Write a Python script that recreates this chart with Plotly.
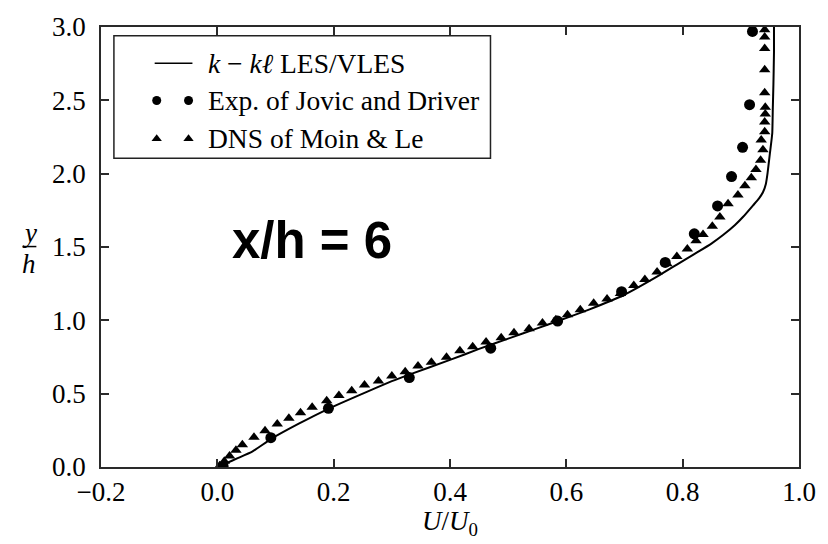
import plotly.graph_objects as go

# Mean streamwise velocity profile at x/h = 6 behind a backward-facing step
les_u = [0.0, 0.015, 0.035, 0.06, 0.092, 0.14, 0.19, 0.25, 0.30, 0.33, 0.40, 0.45,
         0.50, 0.55, 0.585, 0.64, 0.698, 0.761, 0.79, 0.824, 0.85, 0.87, 0.89,
         0.904, 0.921, 0.931, 0.938, 0.943, 0.946, 0.95, 0.954, 0.955, 0.956, 0.957,
         0.957]
les_y = [0.0, 0.025, 0.06, 0.105, 0.19, 0.295, 0.395, 0.50, 0.585, 0.63, 0.73, 0.805,
         0.875, 0.945, 0.995, 1.075, 1.171, 1.31, 1.38, 1.461, 1.525, 1.583, 1.65,
         1.706, 1.784, 1.83, 1.873, 1.93, 2.006, 2.14, 2.274, 2.452, 2.608, 2.83,
         3.0]

exp_u = [0.01, 0.092, 0.191, 0.33, 0.47, 0.585, 0.695, 0.77, 0.82, 0.86, 0.884,
         0.903, 0.915, 0.92]
exp_y = [0.005, 0.2, 0.4, 0.61, 0.81, 0.995, 1.195, 1.395, 1.59, 1.78, 1.98,
         2.18, 2.47, 2.97]

dns_u = [0.004, 0.012, 0.021, 0.032, 0.043, 0.063, 0.082, 0.103, 0.123, 0.143, 0.163,
         0.188, 0.209, 0.231, 0.253, 0.277, 0.30, 0.323, 0.345, 0.368, 0.394, 0.417,
         0.439, 0.462, 0.488, 0.51, 0.536, 0.559, 0.582, 0.602, 0.624, 0.647, 0.670,
         0.693, 0.716, 0.735, 0.756, 0.773, 0.790, 0.808, 0.823, 0.835, 0.851, 0.864,
         0.878, 0.895, 0.907, 0.918, 0.926, 0.934, 0.938, 0.935, 0.941, 0.941, 0.942,
         0.942, 0.941, 0.941, 0.941, 0.941, 0.941]
dns_y = [0.008, 0.04, 0.075, 0.114, 0.152, 0.203, 0.247, 0.294, 0.333, 0.37, 0.408,
         0.452, 0.487, 0.52, 0.559, 0.586, 0.62, 0.65, 0.688, 0.715, 0.748, 0.793,
         0.82, 0.853, 0.882, 0.915, 0.942, 0.982, 1.004, 1.038, 1.072, 1.116, 1.146,
         1.183, 1.238, 1.278, 1.33, 1.385, 1.435, 1.486, 1.543, 1.585, 1.642, 1.705,
         1.795, 1.855, 1.917, 1.973, 2.029, 2.091, 2.163, 2.23, 2.285, 2.352, 2.407,
         2.452, 2.552, 2.708, 2.853, 2.931, 2.982]

x_ticks = [-0.2, 0.0, 0.2, 0.4, 0.6, 0.8, 1.0]
y_ticks = [0.0, 0.5, 1.0, 1.5, 2.0, 2.5, 3.0]

legend_labels = ["<i>k</i> − <i>kℓ</i> LES/VLES",
                 "Exp. of Jovic and Driver",
                 "DNS of Moin &amp; Le"]

SERIF = "Liberation Serif"
AXIS_COLOR = "#2a2a2a"

fig = go.Figure()

fig.add_trace(go.Scatter(x=les_u, y=les_y, mode="lines",
                         line=dict(color="black", width=2, shape="spline", smoothing=0.4),
                         showlegend=False))
fig.add_trace(go.Scatter(x=dns_u, y=dns_y, mode="markers",
                         marker=dict(symbol="triangle-up", size=10, color="black"),
                         showlegend=False))
fig.add_trace(go.Scatter(x=exp_u, y=exp_y, mode="markers",
                         marker=dict(symbol="circle", size=11, color="black"),
                         showlegend=False))

# Hand-drawn legend: keys on an invisible unit overlay axis, box as a shape
row_y = [0.9176, 0.833, 0.7461]
key_x = [0.0798, 0.1254]
fig.add_trace(go.Scatter(x=key_x, y=[row_y[1]] * 2, mode="markers",
                         marker=dict(symbol="circle", size=9, color="black"),
                         xaxis="x2", yaxis="y2", showlegend=False, hoverinfo="skip"))
fig.add_trace(go.Scatter(x=key_x, y=[row_y[2]] * 2, mode="markers",
                         marker=dict(symbol="triangle-up", size=9, color="black"),
                         xaxis="x2", yaxis="y2", showlegend=False, hoverinfo="skip"))

fig.add_shape(type="rect", xref="paper", yref="paper",
              x0=0.0185, x1=0.558, y0=0.7016, y1=0.98,
              line=dict(color="#222222", width=1.5), fillcolor="white", layer="below")
fig.add_shape(type="line", xref="paper", yref="paper",
              x0=0.0769, x1=0.131, y0=row_y[0], y1=row_y[0],
              line=dict(color="black", width=1.5))
for label, yy in zip(legend_labels, row_y):
    fig.add_annotation(x=0.151, y=yy, xref="paper", yref="paper", text=label,
                       showarrow=False, xanchor="left", yanchor="middle",
                       font=dict(family=SERIF, size=27.5, color="black"))

# Station label
fig.add_annotation(x=0.302, y=0.5145, xref="paper", yref="paper", text="<b>x/h = 6</b>",
                   showarrow=False, xanchor="center", yanchor="middle",
                   font=dict(family="Liberation Sans", size=51, color="black"))

# Axis titles: U/U0 below, y/h as a stacked fraction on the left
fig.add_annotation(x=0.5, y=-0.128, xref="paper", yref="paper",
                   text="<i>U</i>/<i>U</i><sub>0</sub>", showarrow=False,
                   xanchor="center", yanchor="middle",
                   font=dict(family=SERIF, size=27, color="black"))
fig.add_annotation(x=-0.1026, y=0.532, xref="paper", yref="paper", text="<i>y</i>",
                   showarrow=False, xanchor="center", yanchor="middle",
                   font=dict(family=SERIF, size=27, color="black"))
fig.add_annotation(x=-0.1026, y=0.462, xref="paper", yref="paper", text="<i>h</i>",
                   showarrow=False, xanchor="center", yanchor="middle",
                   font=dict(family=SERIF, size=27, color="black"))
fig.add_shape(type="line", xref="paper", yref="paper",
              x0=-0.1125, x1=-0.0926, y0=0.501, y1=0.501,
              line=dict(color="black", width=1.5))

tick_font = dict(family=SERIF, size=27, color="black")
axis_common = dict(showgrid=False, zeroline=False, showline=True, linecolor=AXIS_COLOR,
                   linewidth=1.5, mirror="ticks", ticks="inside", ticklen=8,
                   tickwidth=1.5, tickcolor=AXIS_COLOR, tickformat=".1f",
                   tickfont=tick_font)

fig.update_layout(
    width=828, height=544,
    margin=dict(l=101, r=25, t=18, b=77),
    paper_bgcolor="white", plot_bgcolor="white",
    font=dict(family=SERIF, size=27, color="black"),
    showlegend=False,
    xaxis=dict(range=[-0.2, 1.0], tickvals=x_ticks, ticklabelstandoff=0, **axis_common),
    yaxis=dict(range=[0.0, 3.0], tickvals=y_ticks, ticklabelstandoff=8, **axis_common),
    xaxis2=dict(overlaying="x", range=[0, 1], visible=False),
    yaxis2=dict(overlaying="y", range=[0, 1], visible=False),
)

fig.write_html("out.html")
